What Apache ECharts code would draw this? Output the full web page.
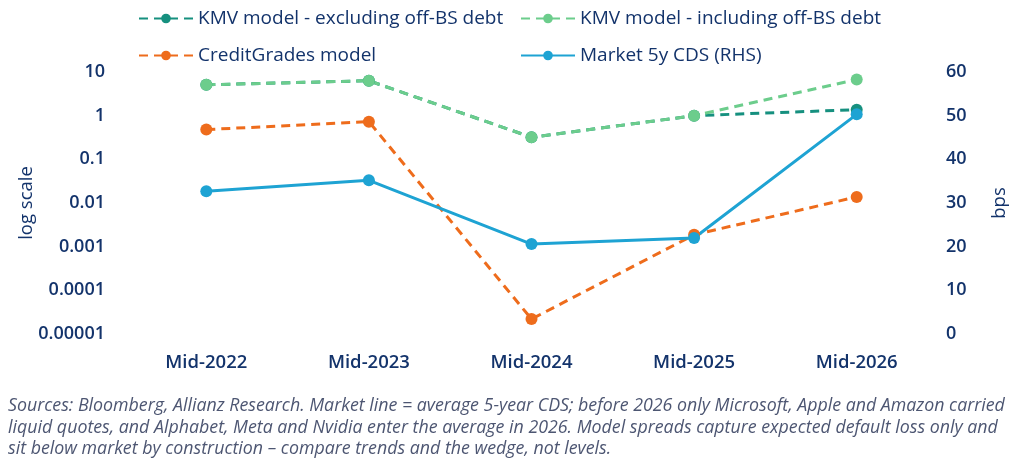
<!DOCTYPE html>
<html>
<head>
<meta charset="utf-8">
<script src="https://cdn.jsdelivr.net/npm/echarts@6/dist/echarts.min.js"></script>
<style>
  html, body { margin: 0; padding: 0; background: #fff; }
  #main { width: 1024px; height: 472px; }
</style>
</head>
<body>
<div id="main"></div>
<script>
// categories
var categories = ['Mid-2022', 'Mid-2023', 'Mid-2024', 'Mid-2025', 'Mid-2026'];
// model spreads, log scale (LHS)
var kmvExcl = [5.1, 6.3, 0.32, 1.0, 1.37];
var kmvIncl = [5.1, 6.3, 0.32, 1.0, 6.7];
var creditGrades = [0.48, 0.73, 0.000022, 0.00187, 0.0138];
// market 5y CDS, bps (RHS)
var marketCds = [32.7, 35.2, 20.6, 22.0, 50.3];
// footer
var notes = [
  'Sources: Bloomberg, Allianz Research. Market line = average 5-year CDS; before 2026 only Microsoft, Apple and Amazon carried',
  'liquid quotes, and Alphabet, Meta and Nvidia enter the average in 2026. Model spreads capture expected default loss only and',
  'sit below market by construction \u2013 compare trends and the wedge, not levels.'
];

var navy = '#13336b';
var font = 'Open Sans';

var myChart = echarts.init(document.getElementById('main'));

function fmtLog(v) {
  // plain decimals like 0.00001
  if (v >= 1) return String(Math.round(v));
  var d = Math.round(-Math.log10(v));
  return v.toFixed(d);
}

// one legend per item so each sits where the reference puts it
var legendPos = [[133, 4], [515, 4], [133, 41], [515, 41]];
var names = ['KMV model - excluding off-BS debt', 'KMV model - including off-BS debt', 'CreditGrades model', 'Market 5y CDS (RHS)'];

// footer lines + left axis title (placed by hand, the axis name gets pushed away by labels)
var graphics = notes.map(function (t, i) {
  return {
    type: 'text', left: 8, top: 397 + i * 21.5,
    style: { text: t, fill: '#4d5672', font: 'italic 17.8px ' + font }
  };
});
graphics.push({
  type: 'text', x: 27, y: 203, rotation: Math.PI / 2,
  style: { text: 'log scale', fill: navy, font: '18.5px ' + font, align: 'center', verticalAlign: 'middle' }
});

var option = {
  backgroundColor: '#fff',
  animation: false,
  textStyle: { fontFamily: font },
  legend: names.map(function (n, i) {
    return {
      left: legendPos[i][0], top: legendPos[i][1], itemWidth: 54, itemHeight: 12, itemGap: 4,
      textStyle: { color: navy, fontSize: 19, fontFamily: font, fontWeight: 500 },
      data: [n]
    };
  }),
  grid: { left: 125, right: 86, top: 72, bottom: 138 },
  xAxis: {
    type: 'category',
    data: categories,
    axisLine: { show: false },
    axisTick: { show: false },
    axisLabel: { color: navy, fontSize: 18.5, fontWeight: 600, margin: 19 }
  },
  yAxis: [{
    type: 'log',
    logBase: 10,
    min: 0.00001,
    max: 10,
    axisLine: { show: false },
    axisTick: { show: false },
    splitLine: { show: false },
    axisLabel: { color: navy, fontSize: 18, fontWeight: 600, margin: 20, formatter: fmtLog }
  }, {
    type: 'value',
    min: 0,
    max: 60,
    interval: 10,
    name: 'bps',
    nameLocation: 'middle',
    nameRotate: 90,
    nameGap: 52,
    nameTextStyle: { color: navy, fontSize: 18.5 },
    axisLine: { show: false },
    axisTick: { show: false },
    splitLine: { show: false },
    axisLabel: { color: navy, fontSize: 18, fontWeight: 600, margin: 8 }
  }],
  series: [{
    name: names[0],
    type: 'line',
    data: kmvExcl,
    yAxisIndex: 0,
    symbol: 'circle', symbolSize: 12,
    itemStyle: { color: '#16907f' },
    lineStyle: { width: 3, type: [9, 6] }
  }, {
    name: names[1],
    type: 'line',
    data: kmvIncl,
    yAxisIndex: 0,
    symbol: 'circle', symbolSize: 12,
    itemStyle: { color: '#6ccd8c' },
    lineStyle: { width: 3, type: [9, 6] }
  }, {
    name: names[2],
    type: 'line',
    data: creditGrades,
    yAxisIndex: 0,
    symbol: 'circle', symbolSize: 12,
    itemStyle: { color: '#ee6c1c' },
    lineStyle: { width: 3, type: [9, 6] }
  }, {
    name: names[3],
    type: 'line',
    data: marketCds,
    yAxisIndex: 1,
    symbol: 'circle', symbolSize: 12,
    itemStyle: { color: '#1ea3d3' },
    lineStyle: { width: 3 }
  }],
  graphic: graphics
};

myChart.setOption(option);
</script>
</body>
</html>
